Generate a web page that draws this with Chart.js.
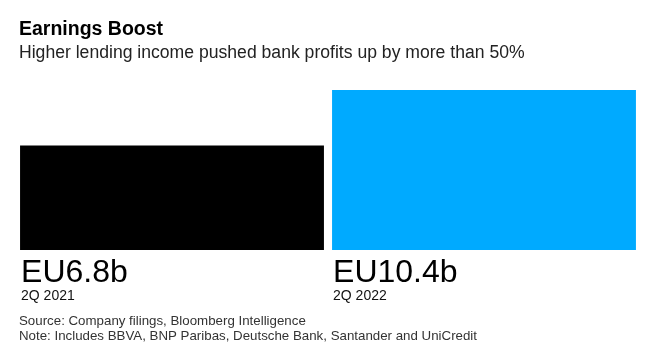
<!DOCTYPE html>
<html>
<head>
<meta charset="utf-8">
<script src="https://cdn.jsdelivr.net/npm/chart.js@4"></script>
<style>
  body { margin: 0; background: #fff; }
  canvas { display: block; }
</style>
</head>
<body>
<canvas id="earningsChart" width="657" height="363"></canvas>
<script>
const periods = ["2Q 2021", "2Q 2022"];
const profits = [6.8, 10.4];
const valueLabels = ["EU6.8b", "EU10.4b"];
const barColors = ["#000000", "#00aaff"];

const FONT = "'Liberation Sans', Arial, sans-serif";

// titles, bar captions and footer text
const textPlugin = {
  id: "textPlugin",
  afterDraw(chart) {
    const ctx = chart.ctx;
    const area = chart.chartArea;
    ctx.save();
    ctx.textAlign = "left";
    ctx.textBaseline = "alphabetic";

    ctx.fillStyle = "#000";
    ctx.font = `bold 19.5px ${FONT}`;
    ctx.fillText("Earnings Boost", 19, 35);

    ctx.fillStyle = "#222";
    ctx.font = `17.6px ${FONT}`;
    ctx.fillText("Higher lending income pushed bank profits up by more than 50%", 19, 58);

    const bars = chart.getDatasetMeta(0).data;
    bars.forEach((bar, i) => {
      const left = bar.x - bar.width / 2;
      ctx.fillStyle = "#000";
      ctx.font = `32px ${FONT}`;
      ctx.fillText(valueLabels[i], left + 1, area.bottom + 32);
      ctx.fillStyle = "#111";
      ctx.font = `14px ${FONT}`;
      ctx.fillText(periods[i], left + 1, area.bottom + 50);
    });

    ctx.fillStyle = "#333";
    ctx.font = `13.3px ${FONT}`;
    ctx.fillText("Source: Company filings, Bloomberg Intelligence", 19, 325);
    ctx.fillText("Note: Includes BBVA, BNP Paribas, Deutsche Bank, Santander and UniCredit", 19, 340);
    ctx.restore();
  },
};

new Chart(document.getElementById("earningsChart").getContext("2d"), {
  type: "bar",
  data: {
    labels: periods,
    datasets: [
      {
        data: profits,
        backgroundColor: barColors,
        borderWidth: 0,
        barPercentage: 0.974,
        categoryPercentage: 1,
      },
    ],
  },
  options: {
    responsive: false,
    animation: false,
    layout: { padding: { top: 90, bottom: 113, left: 16, right: 17 } },
    plugins: {
      legend: { display: false },
      tooltip: { enabled: false },
    },
    scales: {
      x: { display: false },
      y: { display: false, min: 0, max: 10.4 },
    },
  },
  plugins: [textPlugin],
});
</script>
</body>
</html>
